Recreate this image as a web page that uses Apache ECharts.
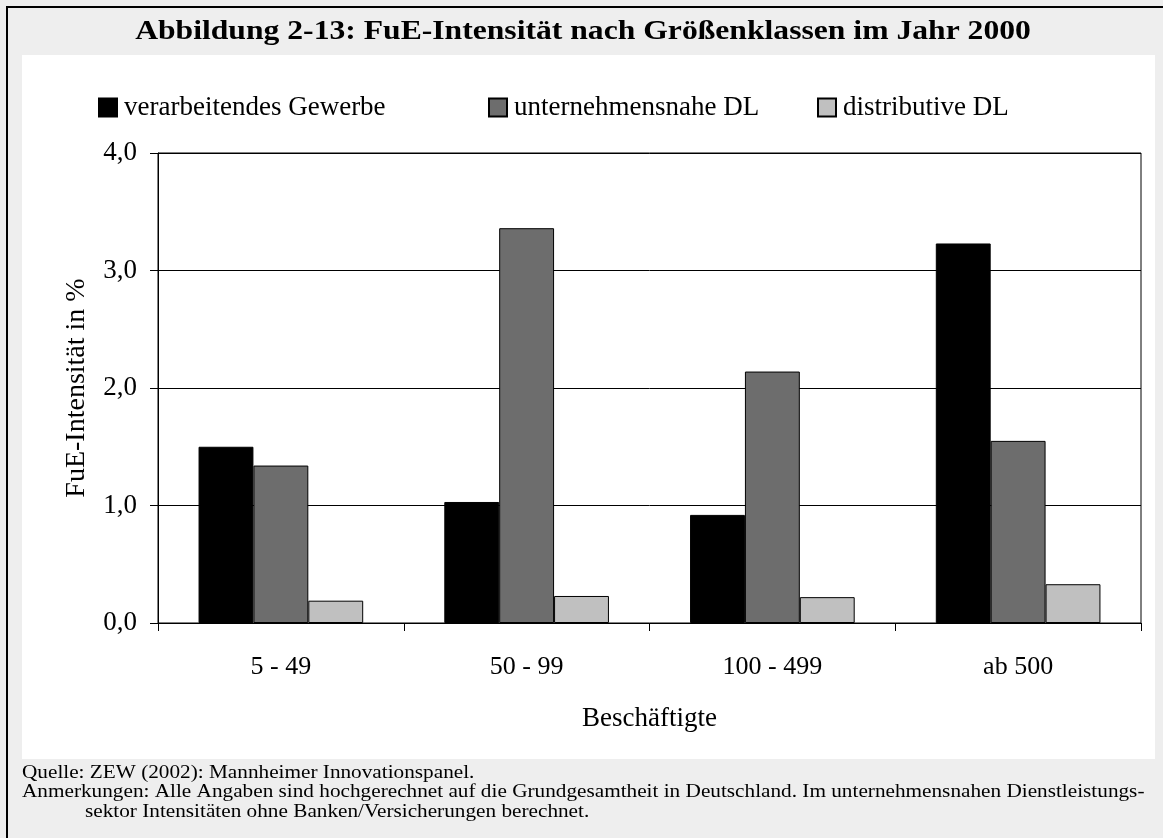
<!DOCTYPE html>
<html>
<head>
<meta charset="utf-8">
<script src="https://cdn.jsdelivr.net/npm/echarts@6/dist/echarts.min.js"></script>
<style>
  html, body { margin: 0; padding: 0; background: #eeeeee; }
  #main-chart { width: 1163px; height: 838px; }
</style>
</head>
<body>
<div id="main-chart"></div>
<script>
// Daten
const categories = ['5 - 49', '50 - 99', '100 - 499', 'ab 500'];
const seriesNames = ['verarbeitendes Gewerbe', 'unternehmensnahe DL', 'distributive DL'];
const verarbeitend = [1.50, 1.03, 0.92, 3.23];
const unternehmensnah = [1.34, 3.36, 2.14, 1.55];
const distributiv = [0.19, 0.23, 0.22, 0.33];
const yTickLabels = ['0,0', '1,0', '2,0', '3,0', '4,0'];

const serif = '"Liberation Serif", "Times New Roman", serif';
const chart = echarts.init(document.getElementById('main-chart'));

function legendFor(name, left) {
    return {
        data: [name],
        left: left,
        top: 94,
        padding: 0,
        icon: 'rect',
        itemWidth: 18,
        itemHeight: 18,
        textStyle: { fontFamily: serif, fontSize: 27, color: '#000', padding: [0, 0, 0, 2] },
        selectedMode: false
    };
}

function barSeries(name, data, color) {
    return {
        name: name,
        type: 'bar',
        data: data,
        barGap: 0,
        barCategoryGap: '33%',
        itemStyle: { color: color, borderColor: '#000', borderWidth: 1 },
        emphasis: { disabled: true }
    };
}

// Fußnotentext
function note(text, x, y) {
    return { type: 'text', x: x, y: y, scaleX: 1.18, style: { text: text, font: '18px ' + serif, fill: '#000', verticalAlign: 'middle' } };
}

const option = {
    backgroundColor: '#eeeeee',
    animation: false,
    graphic: [
        // weißes Feld
        { type: 'rect', z: -10, shape: { x: 22, y: 55, width: 1133, height: 704 }, style: { fill: '#fff' } },
        // Rahmen oben und links
        { type: 'polyline', z: 10, shape: { points: [[7, 838], [7, 7], [1163, 7]] }, style: { stroke: '#000', lineWidth: 2, fill: null } },
        { type: 'text', x: 583, y: 32, scaleX: 1.13, style: { text: 'Abbildung 2-13: FuE-Intensität nach Größenklassen im Jahr 2000', font: 'bold 28px ' + serif, fill: '#000', align: 'center', verticalAlign: 'middle' } },
        note('Quelle: ZEW (2002): Mannheimer Innovationspanel.', 22, 773),
        note('Anmerkungen: Alle Angaben sind hochgerechnet auf die Grundgesamtheit in Deutschland. Im unternehmensnahen Dienstleistungs-', 22, 792),
        note('sektor Intensitäten ohne Banken/Versicherungen berechnet.', 85, 812)
    ],
    legend: [
        legendFor(seriesNames[0], 98),
        legendFor(seriesNames[1], 488),
        legendFor(seriesNames[2], 817)
    ],
    grid: {
        left: 158, right: 22, top: 153, bottom: 215,
        show: true, borderColor: '#000', borderWidth: 1, backgroundColor: 'transparent'
    },
    xAxis: {
        type: 'category',
        data: categories,
        name: 'Beschäftigte',
        nameLocation: 'middle',
        nameGap: 82,
        nameTextStyle: { fontFamily: serif, fontSize: 27, color: '#000' },
        axisLine: { lineStyle: { color: '#000', width: 1 } },
        axisTick: { show: true, length: 8, lineStyle: { color: '#000' } },
        axisLabel: { fontFamily: serif, fontSize: 26, color: '#000', margin: 31 }
    },
    yAxis: {
        type: 'value',
        min: 0, max: 4, interval: 1,
        name: 'FuE-Intensität in %',
        nameLocation: 'middle',
        nameGap: 67,
        nameTextStyle: { fontFamily: serif, fontSize: 28, color: '#000' },
        axisLine: { show: true, lineStyle: { color: '#000', width: 1 } },
        axisTick: { show: true, length: 8, lineStyle: { color: '#000' } },
        axisLabel: {
            fontFamily: serif, fontSize: 27, color: '#000', margin: 21,
            formatter: function (v) { return yTickLabels[Math.round(v)]; }
        },
        splitLine: { show: true, lineStyle: { color: '#000', width: 1 } }
    },
    series: [
        barSeries(seriesNames[0], verarbeitend, '#000000'),
        barSeries(seriesNames[1], unternehmensnah, '#6d6d6d'),
        barSeries(seriesNames[2], distributiv, '#c0c0c0')
    ]
};

chart.setOption(option);
</script>
</body>
</html>
